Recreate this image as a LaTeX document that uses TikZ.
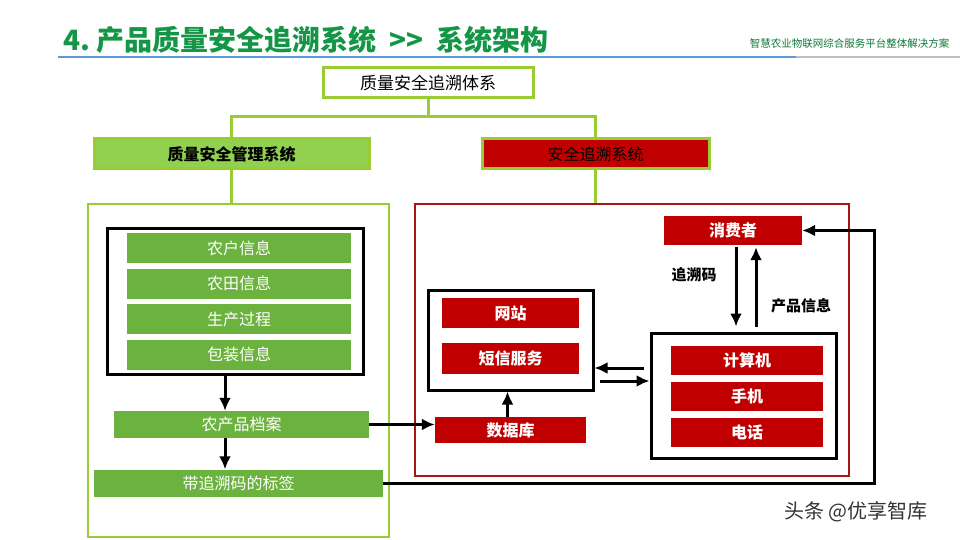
\documentclass[tikz,border=0pt]{standalone}
\usepackage{fontspec}
\setmainfont{Noto Sans CJK SC}
\usetikzlibrary{arrows.meta}
\definecolor{titlegreen}{RGB}{20,150,70}
\definecolor{olivel}{RGB}{153,204,51}
\definecolor{mgmtgreen}{RGB}{146,208,80}
\definecolor{boxgreen}{RGB}{108,178,62}
\definecolor{darkred}{RGB}{192,0,0}
\definecolor{framered}{RGB}{168,20,20}
\definecolor{ruleblue}{RGB}{91,155,213}
\begin{document}
\begin{tikzpicture}[x=1pt, y=-1pt, >={Latex[length=13pt,width=12pt]},
    olive/.style={draw=olivel, line width=3pt},
    frame/.style={draw, line width=3pt, inner sep=0pt},
    greenbox/.style={fill=boxgreen, text=white, inner sep=0pt, font=\fontsize{16}{16}\selectfont},
    redbox/.style={fill=darkred, text=white, inner sep=0pt, font=\bfseries\fontsize{16}{16}\selectfont},
    arrow/.style={->, line width=3pt}]
    \useasboundingbox (0,0) rectangle (960,540);
    % 标题
    \node[anchor=west, text=titlegreen, font=\bfseries\fontsize{28}{28}\selectfont] (title) at (60,40) {4.\ 产品质量安全追溯系统\ \ {>}{>}\ \ 系统架构};
    \node[anchor=east, text=titlegreen!80!black, font=\fontsize{10.5}{10.5}\selectfont] (subtitle) at (953,44) {智慧农业物联网综合服务平台整体解决方案};
    \coordinate (rulel) at (58,57);
    \coordinate (rulem) at (796,57);
    \coordinate (ruler) at (960,57);
    \draw[ruleblue, line width=1.5pt] (rulel) -- (rulem);
    \draw[gray!50, line width=1.5pt] (rulem) -- (ruler);

    % 体系
    \node[olive, fill=white, minimum width=210pt, minimum height=30pt, inner sep=0pt, font=\fontsize{17}{17}\selectfont] (top) at (428,83) {质量安全追溯体系};
    \node[olive, fill=mgmtgreen, minimum width=275pt, minimum height=30pt, inner sep=0pt, font=\bfseries\fontsize{16}{16}\selectfont] (mgmt) at (231.5,154) {质量安全管理系统};
    \node[olive, fill=darkred, minimum width=227pt, minimum height=30pt, inner sep=0pt, font=\fontsize{16}{16}\selectfont] (trace) at (595.5,154) {安全追溯系统};
    \draw[olive] (top.south) -- ++(0,17) -| (mgmt.north);
    \draw[olive] (top.south) -- ++(0,17) -| (trace.north);

    % 大框
    \node[draw=olivel, line width=2.5pt, minimum width=301pt, minimum height=333pt, inner sep=0pt] (leftframe) at (238.5,370.5) {};
    \node[draw=framered, line width=2.5pt, minimum width=434pt, minimum height=272pt, inner sep=0pt] (redframe) at (632,340) {};
    \draw[olive] (mgmt.south) -- (mgmt.south |- leftframe.north);
    \draw[olive] (trace.south) -- (trace.south |- redframe.north);

    % 质量安全管理
    \node[frame, minimum width=256pt, minimum height=146pt] (info) at (235,301) {};
    \node[greenbox, minimum width=224pt, minimum height=30pt] (farmer) at (239,248) {农户信息};
    \node[greenbox, minimum width=224pt, minimum height=30pt] (field) at (239,283.5) {农田信息};
    \node[greenbox, minimum width=224pt, minimum height=30pt] (process) at (239,319) {生产过程};
    \node[greenbox, minimum width=224pt, minimum height=30pt] (pack) at (239,354.5) {包装信息};
    \node[greenbox, minimum width=255pt, minimum height=27pt] (archive) at (241.5,424.5) {农产品档案};
    \node[greenbox, minimum width=289pt, minimum height=27pt] (label) at (238.5,483) {带追溯码的标签};
    \draw[arrow] ([xshift=-10pt]info.south) -- ([xshift=-10pt]info.south |- archive.north);
    \draw[arrow] ([xshift=-16.5pt]archive.south) -- ([xshift=-16.5pt]archive.south |- label.north);

    % 安全追溯
    \node[frame, minimum width=165pt, minimum height=100pt] (web) at (510.5,340) {};
    \node[redbox, minimum width=137pt, minimum height=30pt] (site) at (510.5,313) {网站};
    \node[redbox, minimum width=137pt, minimum height=31pt] (sms) at (510.5,358.5) {短信服务};
    \node[redbox, minimum width=151pt, minimum height=26pt] (db) at (510.5,430) {数据库};
    \node[frame, minimum width=185pt, minimum height=125pt] (device) at (743.5,395.5) {};
    \node[redbox, minimum width=152pt, minimum height=29pt] (pc) at (747,360.5) {计算机};
    \node[redbox, minimum width=152pt, minimum height=29pt] (phone) at (747,396.5) {手机};
    \node[redbox, minimum width=152pt, minimum height=29pt] (tel) at (747,432) {电话};
    \node[redbox, minimum width=138pt, minimum height=29pt] (consumer) at (733,230.5) {消费者};
    \node[font=\bfseries\fontsize{15}{15}\selectfont] (code) at (694,275) {追溯码};
    \node[font=\bfseries\fontsize{15}{15}\selectfont] (prodinfo) at (801,306) {产品信息};

    \draw[arrow] (archive.east) -- (archive.east -| db.west);
    \draw[arrow] ([xshift=-3pt]db.north) -- ([xshift=-3pt]db.north |- web.south);
    \draw[arrow, shorten <=6pt] ([yshift=27.5pt]device.west) -- ([yshift=27.5pt]device.west -| web.east);
    \draw[arrow, shorten <=5pt] ([yshift=-41pt]web.east) -- ([yshift=-41pt]web.east -| device.west);
    \draw[arrow, shorten <=2pt, shorten >=5pt] ([xshift=3pt]consumer.south) -- ([xshift=3pt]consumer.south |- device.north);
    \draw[arrow, shorten <=5pt, shorten >=2pt] ([xshift=23pt]consumer.south |- device.north) -- ([xshift=23pt]consumer.south);

    % 回路
    \coordinate (loopx) at (874,0);
    \draw[arrow] (label.east) -| (loopx |- consumer.east) -- (consumer.east);

    % 水印
    \node[text=gray!40!black, font=\fontsize{20}{20}\selectfont] (mark) at (856,512) {头条 @优享智库};
\end{tikzpicture}
\end{document}
